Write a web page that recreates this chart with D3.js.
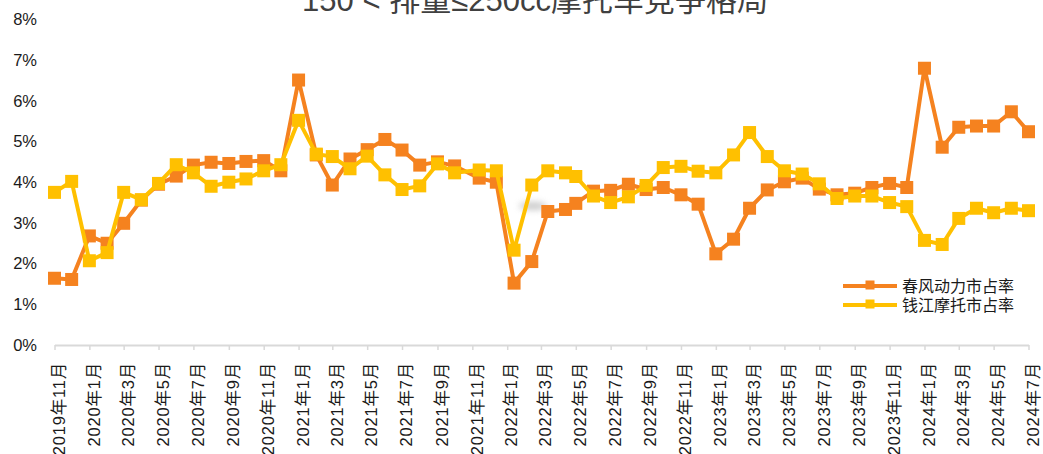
<!DOCTYPE html>
<html>
<head>
<meta charset="utf-8">
<script src="https://cdn.jsdelivr.net/npm/d3@7/dist/d3.min.js"></script>
<style>
  body { margin: 0; background: #fff; }
  text { font-family: "Liberation Sans", Arial, "Noto Sans CJK SC", sans-serif; }
</style>
</head>
<body>
<div id="chartDiv"></div>
<script>
// month of each point (a few months in the source sit mid-month on the date axis)
const dates = [
  "2019-11-01", "2019-12-01", "2020-01-01", "2020-02-01", "2020-03-01", "2020-04-01",
  "2020-05-01", "2020-06-01", "2020-07-01", "2020-08-01", "2020-09-01", "2020-10-01",
  "2020-11-01", "2020-12-01", "2021-01-01", "2021-02-01", "2021-03-01", "2021-04-01",
  "2021-05-01", "2021-06-01", "2021-07-01", "2021-08-01", "2021-09-01", "2021-10-01",
  "2021-11-13", "2021-12-13", "2022-01-13", "2022-02-13", "2022-03-13", "2022-04-13",
  "2022-05-01", "2022-06-01", "2022-07-01", "2022-08-01", "2022-09-01", "2022-10-01",
  "2022-11-01", "2022-12-01", "2023-01-01", "2023-02-01", "2023-03-01", "2023-04-01",
  "2023-05-01", "2023-06-01", "2023-07-01", "2023-08-01", "2023-09-01", "2023-10-01",
  "2023-11-01", "2023-12-01", "2024-01-01", "2024-02-01", "2024-03-01", "2024-04-01",
  "2024-05-01", "2024-06-01", "2024-07-01"
];

// 春风动力市占率 (%)
const chunfeng = [
  1.64, 1.61, 2.68, 2.50, 2.99, 3.56, 3.95, 4.15, 4.42, 4.49, 4.46, 4.51,
  4.53, 4.28, 6.51, 4.67, 3.93, 4.57, 4.80, 5.05, 4.79, 4.42, 4.50, 4.40,
  4.10, 4.00, 1.52, 2.05, 3.28, 3.33, 3.48, 3.78, 3.80, 3.95, 3.82, 3.87,
  3.69, 3.46, 2.24, 2.60, 3.36, 3.81, 4.01, 4.10, 3.83, 3.69, 3.73, 3.87,
  3.97, 3.87, 6.80, 4.86, 5.35, 5.38, 5.38, 5.73, 5.24
];

// 钱江摩托市占率 (%)
const qianjiang = [
  3.75, 4.02, 2.07, 2.27, 3.75, 3.57, 3.97, 4.43, 4.23, 3.90, 4.00, 4.08,
  4.28, 4.43, 5.52, 4.69, 4.63, 4.33, 4.64, 4.18, 3.82, 3.91, 4.45, 4.23,
  4.30, 4.28, 2.33, 3.93, 4.28, 4.23, 4.14, 3.66, 3.50, 3.64, 3.92, 4.36,
  4.39, 4.27, 4.23, 4.67, 5.22, 4.63, 4.28, 4.20, 3.96, 3.60, 3.66, 3.66,
  3.50, 3.40, 2.57, 2.47, 3.11, 3.36, 3.25, 3.36, 3.30
];

const tickLabels = [
  "2019年11月", "2020年1月", "2020年3月", "2020年5月", "2020年7月", "2020年9月",
  "2020年11月", "2021年1月", "2021年3月", "2021年5月", "2021年7月", "2021年9月",
  "2021年11月", "2022年1月", "2022年3月", "2022年5月", "2022年7月", "2022年9月",
  "2022年11月", "2023年1月", "2023年3月", "2023年5月", "2023年7月", "2023年9月",
  "2023年11月", "2024年1月", "2024年3月", "2024年5月", "2024年7月"
];

const yTicks = [0, 1, 2, 3, 4, 5, 6, 7, 8];
const seriesNames = ["春风动力市占率", "钱江摩托市占率"];
const title = "150 < 排量≤250cc摩托车竞争格局";

const width = 1043, height = 454;
const colors = ["#F5821F", "#FFC000"];

const svg = d3.select("#chartDiv")
  .append("svg")
  .attr("width", width)
  .attr("height", height);

const parse = d3.utcParse("%Y-%m-%d");
const pts = dates.map(parse);

const x = d3.scaleUtc()
  .domain([parse("2019-11-01"), parse("2024-07-01")])
  .range([54.5, 1028.5]);

const y = d3.scaleLinear()
  .domain([0, 8])
  .range([345, 19.4]);

// soft grey smudge that sits in the source picture
const defs = svg.append("defs");
defs.append("filter").attr("id", "blur")
  .attr("x", "-50%").attr("y", "-100%").attr("width", "200%").attr("height", "300%")
  .append("feGaussianBlur").attr("stdDeviation", 3);
svg.append("ellipse")
  .attr("cx", 533).attr("cy", 206)
  .attr("rx", 14).attr("ry", 4)
  .attr("fill", "#bdbdbd")
  .attr("opacity", 0.8)
  .attr("filter", "url(#blur)");

// title (partly cut off at the top, as in the source)
svg.append("text")
  .attr("x", 535)
  .attr("y", 11)
  .attr("text-anchor", "middle")
  .style("font-size", "31px")
  .style("fill", "#404040")
  .text(title);

// y axis labels, no axis line
const yAxis = svg.append("g")
  .attr("transform", "translate(37,0)")
  .call(d3.axisLeft(y).tickValues(yTicks).tickSize(0).tickPadding(0).tickFormat(d => d + "%"));
yAxis.select(".domain").remove();
yAxis.selectAll("text")
  .style("font-size", "16.5px")
  .style("fill", "#1a1a1a");

// x axis
const xTickDates = x.ticks(d3.utcMonth.every(2));
const xAxis = svg.append("g")
  .attr("transform", "translate(0,345)")
  .call(d3.axisBottom(x).tickValues(xTickDates).tickSizeInner(5).tickSizeOuter(0)
    .tickFormat((d, i) => tickLabels[i]));
xAxis.select(".domain").attr("stroke", "#D9D9D9").attr("stroke-width", 2);
xAxis.selectAll(".tick line").attr("stroke", "#D9D9D9").attr("stroke-width", 1.5);
xAxis.selectAll(".tick text")
  .attr("transform", "translate(4,17) rotate(-90)")
  .attr("x", 0)
  .attr("y", 0)
  .attr("dy", "0.35em")
  .attr("text-anchor", "end")
  .style("font-size", "16.5px")
  .style("letter-spacing", "0.8px")
  .style("fill", "#1a1a1a");

// lines + square markers, yellow series drawn on top
const line = d3.line()
  .x(d => x(d[0]))
  .y(d => y(d[1]));

[chunfeng, qianjiang].forEach((vals, s) => {
  const data = vals.map((v, i) => [pts[i], v]);
  svg.append("path")
    .datum(data)
    .attr("fill", "none")
    .attr("stroke", colors[s])
    .attr("stroke-width", 4)
    .attr("stroke-linejoin", "round")
    .attr("d", line);
  svg.append("g").selectAll("rect")
    .data(data)
    .enter()
    .append("rect")
    .attr("x", d => x(d[0]) - 6.5)
    .attr("y", d => y(d[1]) - 6.5)
    .attr("width", 13)
    .attr("height", 13)
    .attr("fill", colors[s]);
});

// legend
const legend = svg.append("g");
seriesNames.forEach((name, s) => {
  const ly = 286 + s * 19;
  legend.append("line")
    .attr("x1", 843).attr("x2", 897)
    .attr("y1", ly).attr("y2", ly)
    .attr("stroke", colors[s])
    .attr("stroke-width", 4);
  legend.append("rect")
    .attr("x", 865.5).attr("y", ly - 5.5)
    .attr("width", 9).attr("height", 9)
    .attr("fill", colors[s]);
  legend.append("text")
    .attr("x", 902)
    .attr("y", ly)
    .attr("dy", "0.35em")
    .style("font-size", "16px")
    .style("fill", "#1a1a1a")
    .text(name);
});
</script>
</body>
</html>
